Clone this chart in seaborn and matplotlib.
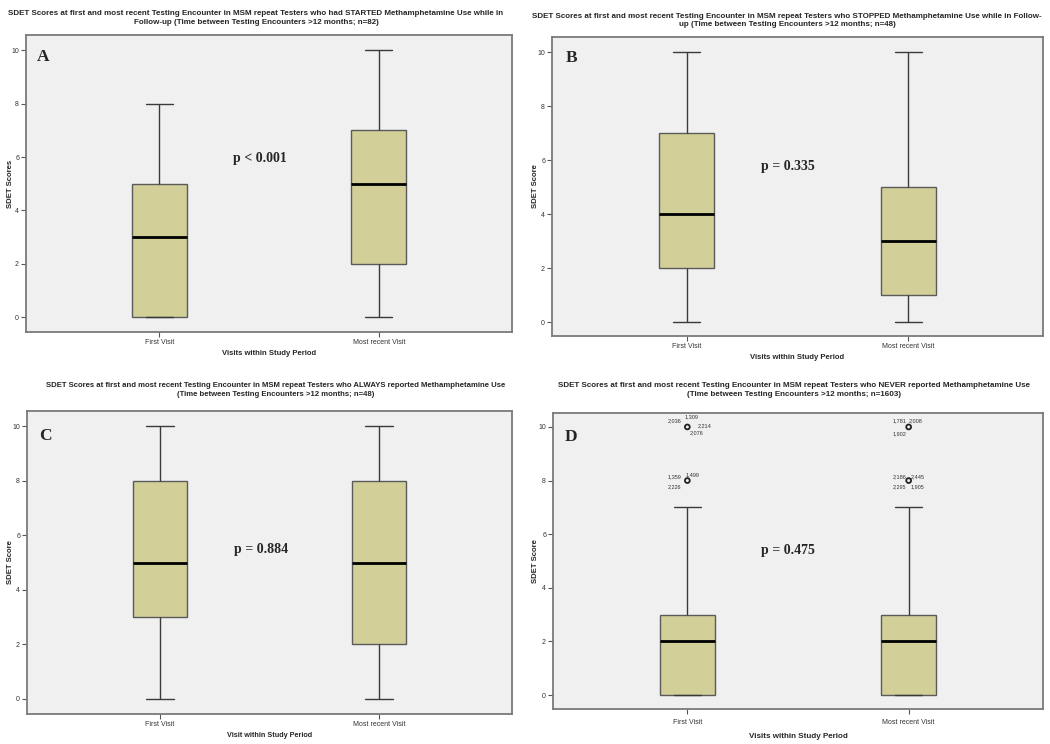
import matplotlib
matplotlib.use("Agg")
import matplotlib.pyplot as plt
from matplotlib import font_manager
import seaborn as sns
import pandas as pd

# ---------------- data ----------------
visits = ["First Visit", "Most recent Visit"]

# five-number summaries per box: [low whisker, Q1, median, Q3, high whisker]
A_first = [0, 0, 3, 5, 8]
A_recent = [0, 2, 5, 7, 10]
B_first = [0, 2, 4, 7, 10]
B_recent = [0, 1, 3, 5, 10]
C_first = [0, 3, 5, 8, 10]
C_recent = [0, 2, 5, 8, 10]
D_first = [0, 0, 2, 3, 7]
D_recent = [0, 0, 2, 3, 7]

# outliers in panel D
D_first_outliers = [10, 8]
D_recent_outliers = [10, 8]
D_first_cases = [["2,036", "1,309", "2,214", "2,076"], ["1,359", "1,499", "2,226"]]
D_recent_cases = [["1,781", "2,008", "1,902"], ["2,186", "2,445", "2,295", "1,905"]]

titles = [
    "SDET Scores at first and most recent Testing Encounter in MSM repeat Testers who had STARTED Methamphetamine Use while in\nFollow-up (Time between Testing Encounters >12 months; n=82)",
    "SDET Scores at first and most recent Testing Encounter in MSM repeat Testers who STOPPED Methamphetamine Use while in Follow-\nup (Time between Testing Encounters >12 months; n=48)",
    "SDET Scores at first and most recent Testing Encounter in MSM repeat Testers who ALWAYS reported Methamphetamine Use\n(Time between Testing Encounters >12 months; n=48)",
    "SDET Scores at first and most recent Testing Encounter in MSM repeat Testers who NEVER reported Methamphetamine Use\n(Time between Testing Encounters >12 months; n=1603)",
]
letters = ["A", "B", "C", "D"]
pvalues = ["p < 0.001", "p = 0.335", "p = 0.884", "p = 0.475"]
ylabels = ["SDET Scores", "SDET Score", "SDET Score", "SDET Score"]
xlabels = ["Visits within Study Period", "Visits within Study Period",
           "Visit within Study Period", "Visits within Study Period"]
yticks = [0, 2, 4, 6, 8, 10]

# ---------------- style ----------------
sns.set_theme(style="white")
installed = {f.name for f in font_manager.fontManager.ttflist}
narrow = "Liberation Sans Narrow" if "Liberation Sans Narrow" in installed else "Liberation Sans"
plt.rcParams["font.family"] = ["Liberation Sans", "DejaVu Sans"]

BOX = "#D3CF98"
BG = "#F0F0F0"
FRAME = "#7A7A7A"

fig = plt.figure(figsize=(10.5, 7.44), dpi=100)
W, H = 1050, 744

def px_axes(l, t, r, b):
    return fig.add_axes([l / W, (H - b) / H, (r - l) / W, (b - t) / H])

panels = [
    dict(box=(26, 35, 512, 332), ylim=(-0.56, 10.58), data=(A_first, A_recent), p=(0.46, 5.96),
         title_xy=(256, 18), fam="Liberation Sans", tsize=5.8, ls=1.25, letter_xy=(0.022, 0.925),
         ylab_x=-0.025, xl=5.5, tpad=1.5, lpad=3),
    dict(box=(552, 37, 1043, 336), ylim=(-0.5, 10.57), data=(B_first, B_recent), p=(0.455, 5.76),
         title_xy=(787, 20.5), fam="Liberation Sans", tsize=5.8, ls=1.25, letter_xy=(0.028, 0.93),
         ylab_x=-0.026, xl=5.5, tpad=1.5, lpad=3),
    dict(box=(27, 411, 512, 714), ylim=(-0.55, 10.55), data=(C_first, C_recent), p=(0.46, 5.46),
         title_xy=(276, 390), fam=narrow, tsize=5.55, ls=1.45, letter_xy=(0.024, 0.919),
         ylab_x=-0.027, xl=5.2, tpad=1.5, lpad=3),
    dict(box=(553, 413, 1043, 709), ylim=(-0.52, 10.52), data=(D_first, D_recent), p=(0.455, 5.41),
         title_xy=(794, 390), fam=narrow, tsize=5.75, ls=1.4, letter_xy=(0.024, 0.92),
         ylab_x=-0.029, xl=5.8, tpad=4.0, lpad=4.5),
]

for i, pan in enumerate(panels):
    ax = px_axes(*pan["box"])
    ax.set_facecolor(BG)
    first, recent = pan["data"]
    df = pd.DataFrame({
        "visit": [visits[0]] * len(first) + [visits[1]] * len(recent),
        "score": first + recent,
    })
    sns.boxplot(data=df, x="visit", y="score", order=visits, ax=ax, width=0.25,
                color=BOX, saturation=1, linecolor="#3A3A3A", linewidth=1.0,
                showfliers=False, whis=1.5,
                medianprops=dict(color="black", linewidth=2.0),
                boxprops=dict(edgecolor="#5A5A5A"))
    ax.set_xlim(-0.607, 1.607)
    ax.set_ylim(*pan["ylim"])
    ax.set_yticks(yticks)
    ax.set_yticklabels([str(v) for v in yticks])
    for s in ax.spines.values():
        s.set_color(FRAME)
        s.set_linewidth(1.3)
    ax.tick_params(axis="both", which="major", direction="out", length=3.5, width=0.8,
                   color="#555555", labelsize=5.0, labelcolor="#333333", pad=1.5,
                   left=True, bottom=True)
    ax.tick_params(axis="x", pad=pan["tpad"])
    for lab in ax.get_xticklabels() + ax.get_yticklabels():
        lab.set_family([pan["fam"], "DejaVu Sans"])
    ax.set_xlabel(xlabels[i], fontsize=pan["xl"], fontweight="bold",
                  family=[pan["fam"], "DejaVu Sans"], labelpad=pan["lpad"])
    ax.set_ylabel(ylabels[i], fontsize=5.6, fontweight="bold")
    ax.yaxis.set_label_coords(pan["ylab_x"], 0.5)
    ax.text(pan["letter_xy"][0], pan["letter_xy"][1], letters[i], transform=ax.transAxes,
            ha="left", va="center", fontsize=12.5, fontweight="bold",
            family=["Liberation Serif", "DejaVu Serif"])
    ax.text(pan["p"][0], pan["p"][1], pvalues[i], ha="center", va="center",
            fontsize=10, fontweight="bold", family=["Liberation Serif", "DejaVu Serif"])
    fig.text(pan["title_xy"][0] / W, 1 - pan["title_xy"][1] / H, titles[i], ha="center",
             va="center", fontsize=pan["tsize"], fontweight="bold",
             family=[pan["fam"], "DejaVu Sans"], linespacing=pan["ls"])

    if i == 3:
        offsets = {
            (0, 0): [(-13, 6), (4, 10), (17, 1), (9, -6)],
            (0, 1): [(-13, 4), (5, 6), (-13, -6)],
            (1, 0): [(-9, 6), (7, 6), (-9, -7)],
            (1, 1): [(-9, 4), (9, 4), (-9, -6), (9, -6)],
        }
        for xi, (outs, cases) in enumerate([(D_first_outliers, D_first_cases),
                                            (D_recent_outliers, D_recent_cases)]):
            ax.scatter([xi] * len(outs), outs, s=12, facecolors="none",
                       edgecolors="#222222", linewidths=1.3, zorder=5)
            for oi, (val, labs) in enumerate(zip(outs, cases)):
                for lab, (dx, dy) in zip(labs, offsets[(xi, oi)]):
                    ax.annotate(lab, (xi, val), xytext=(dx, dy), textcoords="offset pixels",
                                ha="center", va="center", fontsize=4.0, color="#333333",
                                family=[narrow, "DejaVu Sans"])

fig.savefig("out.png", dpi=100)
